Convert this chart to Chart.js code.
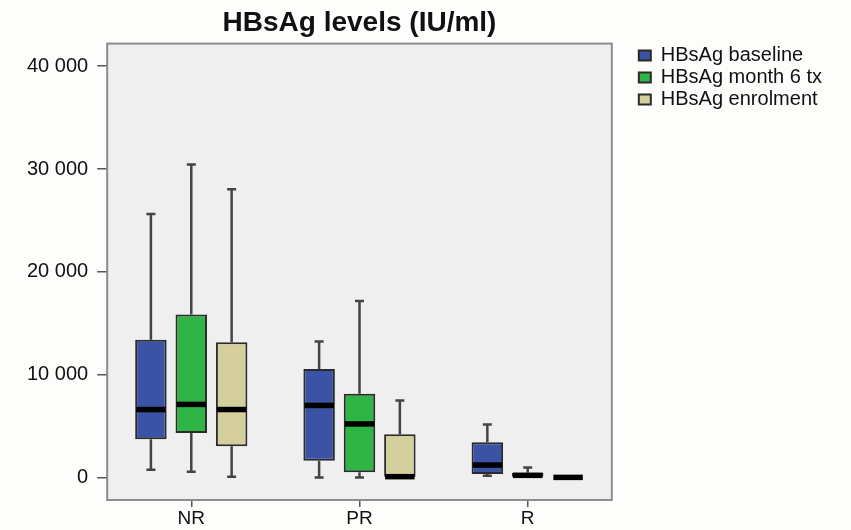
<!DOCTYPE html>
<html>
<head>
<meta charset="utf-8">
<script src="https://cdn.jsdelivr.net/npm/chart.js@4.4.1/dist/chart.umd.min.js"></script>
<style>
  html, body { margin: 0; padding: 0; background: #fdfdfb; }
  #wrap { width: 851px; height: 530px; }
</style>
</head>
<body>
<div id="wrap"><canvas id="hbsag" width="851" height="530"></canvas></div>
<script>
  // categories and series names
  const categories = ['NR', 'PR', 'R'];
  const seriesNames = ['HBsAg baseline', 'HBsAg month 6 tx', 'HBsAg enrolment'];

  // HBsAg baseline (IU/ml)
  const baselineMin = [750, 0, 170];
  const baselineQ1 = [3700, 1630, 330];
  const baselineMedian = [6600, 7000, 1200];
  const baselineQ3 = [13400, 10540, 3420];
  const baselineMax = [25630, 13210, 5140];

  // HBsAg month 6 of treatment
  const month6Min = [550, 0, 0];
  const month6Q1 = [4330, 490, 0];
  const month6Median = [7100, 5200, 200];
  const month6Q3 = [15840, 8140, 460];
  const month6Max = [30440, 17170, 950];

  // HBsAg at enrolment
  const enrolMin = [70, 0, 0];
  const enrolQ1 = [3030, 0, 0];
  const enrolMedian = [6600, 70, 0];
  const enrolQ3 = [13140, 4200, 0];
  const enrolMax = [28040, 7480, 0];

  const yTicks = [0, 10000, 20000, 30000, 40000];

  const stats = [
    { min: baselineMin, q1: baselineQ1, med: baselineMedian, q3: baselineQ3, max: baselineMax },
    { min: month6Min, q1: month6Q1, med: month6Median, q3: month6Q3, max: month6Max },
    { min: enrolMin, q1: enrolQ1, med: enrolMedian, q3: enrolQ3, max: enrolMax }
  ];
  const colors = ['#3b53a5', '#2eb545', '#d4cf9c'];

  // grey plot background and frame
  const plotFrame = {
    id: 'plotFrame',
    afterLayout(chart) {
      // push the legend a bit away from the plot
      chart.legend.left += 25;
      chart.legend.right += 25;
    },
    beforeDraw(chart) {
      const { ctx, chartArea: a } = chart;
      ctx.save();
      ctx.fillStyle = '#efefef';
      ctx.fillRect(a.left, a.top, a.right - a.left, a.bottom - a.top);
      ctx.restore();
    },
    afterDraw(chart) {
      const { ctx, chartArea: a } = chart;
      ctx.save();
      ctx.strokeStyle = '#8c8c8c';
      ctx.lineWidth = 2;
      ctx.strokeRect(a.left, a.top, a.right - a.left, a.bottom - a.top);
      ctx.restore();
    }
  };

  // whiskers behind the boxes, medians on top
  const boxParts = {
    id: 'boxParts',
    beforeDatasetsDraw(chart) {
      const { ctx } = chart;
      const y = chart.scales.y;
      ctx.save();
      ctx.strokeStyle = '#444';
      ctx.lineWidth = 2.5;
      stats.forEach((s, d) => {
        chart.getDatasetMeta(d).data.forEach((bar, i) => {
          const x = bar.x;
          const yMax = y.getPixelForValue(s.max[i]);
          const yMin = y.getPixelForValue(s.min[i]);
          ctx.beginPath();
          if (s.max[i] > s.q3[i]) {
            ctx.moveTo(x, yMax);
            ctx.lineTo(x, y.getPixelForValue(s.q3[i]));
            ctx.moveTo(x - 4.5, yMax);
            ctx.lineTo(x + 4.5, yMax);
          }
          if (s.min[i] < s.q1[i]) {
            ctx.moveTo(x, y.getPixelForValue(s.q1[i]));
            ctx.lineTo(x, yMin);
            ctx.moveTo(x - 4.5, yMin);
            ctx.lineTo(x + 4.5, yMin);
          }
          ctx.stroke();
        });
      });
      ctx.restore();
    },
    afterDatasetsDraw(chart) {
      const { ctx } = chart;
      const y = chart.scales.y;
      ctx.save();
      ctx.strokeStyle = '#000';
      ctx.lineWidth = 5.5;
      stats.forEach((s, d) => {
        chart.getDatasetMeta(d).data.forEach((bar, i) => {
          const py = y.getPixelForValue(s.med[i]);
          ctx.beginPath();
          ctx.moveTo(bar.x - bar.width / 2 + 1, py);
          ctx.lineTo(bar.x + bar.width / 2 - 1, py);
          ctx.stroke();
        });
      });
      ctx.restore();
    }
  };

  const datasets = seriesNames.map((name, d) => ({
    label: name,
    data: categories.map((c, i) => [stats[d].q1[i], stats[d].q3[i]]),
    backgroundColor: colors[d],
    borderColor: '#2b2b2b',
    borderWidth: 2,
    borderSkipped: false,
    barPercentage: 0.78,
    categoryPercentage: 0.72
  }));

  new Chart(document.getElementById('hbsag'), {
    type: 'bar',
    data: { labels: categories, datasets: datasets },
    plugins: [plotFrame, boxParts],
    options: {
      responsive: false,
      animation: false,
      layout: { padding: { left: 18, right: 44, top: 0, bottom: 0 } },
      plugins: {
        tooltip: { enabled: false },
        title: {
          display: true,
          text: 'HBsAg levels (IU/ml)',
          fullSize: false,
          color: '#111',
          font: { family: 'Liberation Sans, Arial, sans-serif', size: 28, weight: 'bold' },
          padding: { top: 6, bottom: 4 }
        },
        legend: {
          position: 'right',
          align: 'start',
          fullSize: false,
          labels: {
            color: '#111',
            font: { family: 'Liberation Sans, Arial, sans-serif', size: 20 },
            boxWidth: 12,
            boxHeight: 10,
            padding: 2
          }
        }
      },
      scales: {
        x: {
          grid: { display: true, drawOnChartArea: false, offset: false, tickLength: 7, color: '#555', lineWidth: 1.5 },
          border: { display: false },
          ticks: {
            color: '#111',
            padding: 2,
            font: { family: 'Liberation Sans, Arial, sans-serif', size: 19, lineHeight: 1 }
          }
        },
        y: {
          min: -2200,
          max: 42200,
          afterBuildTicks(scale) {
            scale.ticks = yTicks.map(v => ({ value: v }));
          },
          grid: { display: true, drawOnChartArea: false, tickLength: 10, color: '#555', lineWidth: 1.5 },
          border: { display: false },
          ticks: {
            color: '#111',
            padding: 9,
            font: { family: 'Liberation Sans, Arial, sans-serif', size: 20 },
            callback: v => String(v).replace(/\B(?=(\d{3})+(?!\d))/g, ' ')
          }
        }
      }
    }
  });
</script>
</body>
</html>
